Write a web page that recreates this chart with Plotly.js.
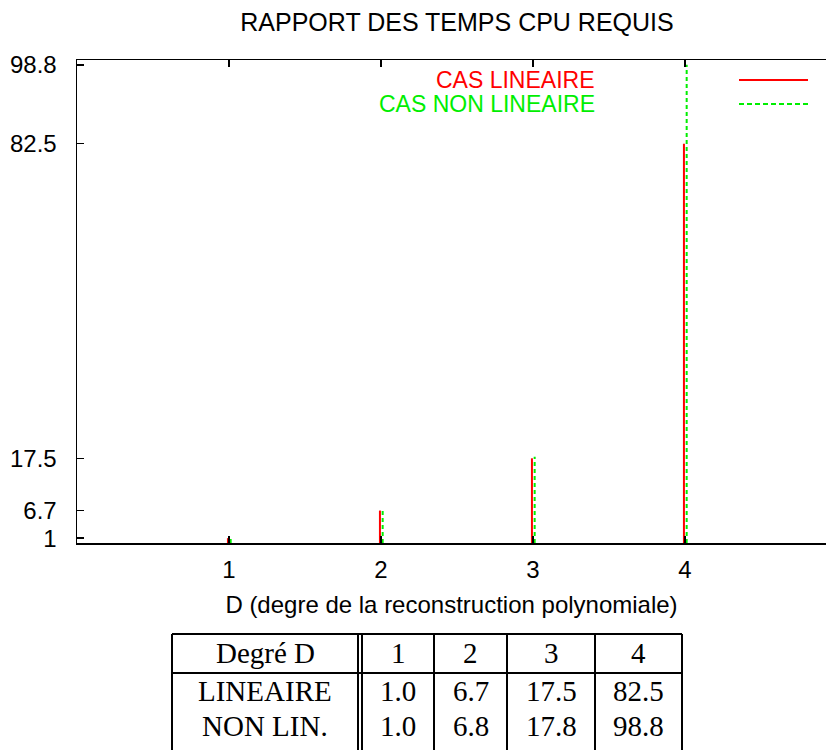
<!DOCTYPE html>
<html>
<head>
<meta charset="utf-8">
<script src="https://cdn.plot.ly/plotly-3.0.1.min.js"></script>
<style>html,body{margin:0;padding:0;background:#fff;overflow:hidden}#chart{width:826px;height:750px}</style>
</head>
<body>
<div id="chart"></div>
<script>
// ---- data ----
const degrees = [1, 2, 3, 4];
const linear = [1.0, 6.7, 17.5, 82.5];
const nonLinear = [1.0, 6.8, 17.8, 98.8];
const yTickVals = [1, 6.7, 17.5, 82.5, 98.8];
const yTickText = ['1', '6.7', '17.5', '82.5', '98.8'];
const seriesNames = ['CAS LINEAIRE', 'CAS NON LINEAIRE'];
const tableCorner = 'Degré D';
const rowLabels = ['LINEAIRE', 'NON LIN.'];
const titleText = 'RAPPORT DES TEMPS CPU REQUIS';
const xTitle = 'D (degre de la reconstruction polynomiale)';

// ---- style / layout helpers ----
const W = 826, H = 750;
const ML = 77, MR = 0, MT = 60, MB = 207;
const plotW = W - ML - MR, plotH = H - MT - MB;
const PX = x => (x - ML) / plotW;
const PY = y => (H - MB - y) / plotH;
const RED = '#ff0000', GREEN = '#00ee00';
const SANS = 'Liberation Sans, Arial, sans-serif';
const SERIF = 'Liberation Serif, Times New Roman, serif';

function impulses(vals, off) {
  const xs = [], ys = [];
  degrees.forEach((d, i) => { xs.push(d + off, d + off, null); ys.push(0, vals[i], null); });
  return {x: xs, y: ys};
}
const r = impulses(linear, -0.007);
const g = impulses(nonLinear, 0.011);

const traces = [
  {x: r.x, y: r.y, type: 'scatter', mode: 'lines', name: seriesNames[0],
   line: {color: RED, width: 2}, showlegend: false, hoverinfo: 'skip'},
  {x: g.x, y: g.y, type: 'scatter', mode: 'lines', name: seriesNames[1],
   line: {color: GREEN, width: 2, dash: '4px,3px'}, showlegend: false, hoverinfo: 'skip'}
];

const annotations = [];
const shapes = [];

// legend (text left, sample right)
const legY = [80, 104];
const legCol = [RED, GREEN];
const legDash = ['solid', '5px,3px'];
seriesNames.forEach((nm, i) => {
  annotations.push({text: nm, xref: 'paper', yref: 'paper', x: PX(597), y: PY(legY[i]),
    xanchor: 'right', yanchor: 'middle', showarrow: false,
    font: {family: SANS, size: 23, color: legCol[i]}});
  shapes.push({type: 'line', xref: 'paper', yref: 'paper', x0: PX(739), x1: PX(808),
    y0: PY(legY[i]), y1: PY(legY[i]), line: {color: legCol[i], width: 2, dash: legDash[i]}});
});

// table
const colX = [172, 358, 362, 434, 507, 595, 682];
const colCenters = [265, 398, 470.5, 551, 638.5];
const tTop = 634, tHead = 673, tBot = 770;
const rowY = [653, 691, 726];
const tline = {color: '#000', width: 2};
colX.forEach(x => shapes.push({type: 'line', xref: 'paper', yref: 'paper',
  x0: PX(x), x1: PX(x), y0: PY(tTop), y1: PY(tBot), line: tline}));
[tTop, tHead].forEach(y => shapes.push({type: 'line', xref: 'paper', yref: 'paper',
  x0: PX(colX[0]), x1: PX(colX[colX.length - 1]), y0: PY(y), y1: PY(y), line: tline}));
const rows = [
  [tableCorner].concat(degrees.map(String)),
  [rowLabels[0]].concat(linear.map(v => v.toFixed(1))),
  [rowLabels[1]].concat(nonLinear.map(v => v.toFixed(1)))
];
rows.forEach((row, ri) => row.forEach((txt, ci) => {
  annotations.push({text: txt, xref: 'paper', yref: 'paper', x: PX(colCenters[ci]), y: PY(rowY[ri]),
    xanchor: 'center', yanchor: 'middle', showarrow: false,
    font: {family: SERIF, size: 29, color: '#000'}});
}));

const layout = {
  width: W, height: H,
  margin: {l: ML, r: MR, t: MT, b: MB, pad: 0},
  paper_bgcolor: '#fff', plot_bgcolor: '#fff',
  showlegend: false,
  font: {family: SANS, color: '#000', size: 24},
  title: {text: titleText, x: 457 / W, xref: 'container', xanchor: 'center',
          y: 1 - 22 / H, yref: 'container', yanchor: 'middle',
          font: {family: SANS, size: 25, color: '#000'}},
  xaxis: {range: [0, plotW / 152], tickvals: degrees, ticktext: degrees.map(String),
          ticks: 'inside', ticklen: 7, tickwidth: 1.5, tickcolor: '#000',
          showline: true, linecolor: '#000', linewidth: 1.5, mirror: 'ticks',
          showgrid: false, zeroline: false, ticklabelstandoff: 5,
          tickfont: {family: SANS, size: 24, color: '#000'},
          title: {text: xTitle, standoff: 14, font: {family: SANS, size: 24, color: '#000'}},
          automargin: false, fixedrange: true},
  yaxis: {range: [0, 99.8], tickvals: yTickVals, ticktext: yTickText,
          ticks: 'inside', ticklen: 7, tickwidth: 1.5, tickcolor: '#000',
          showline: true, linecolor: '#000', linewidth: 1.5, mirror: false,
          showgrid: false, zeroline: false, ticklabelstandoff: 14,
          tickfont: {family: SANS, size: 24, color: '#000'},
          automargin: false, fixedrange: true},
  shapes: shapes,
  annotations: annotations
};

Plotly.newPlot('chart', traces, layout, {staticPlot: true, displayModeBar: false});
</script>
</body>
</html>
